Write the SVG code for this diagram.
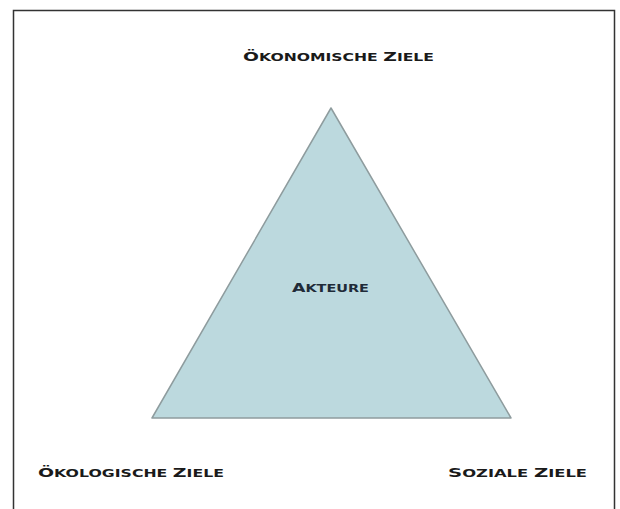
<svg xmlns="http://www.w3.org/2000/svg" width="620" height="509" viewBox="0 0 620 509">
<style>
.lbl{font-family:"DejaVu Sans","Liberation Sans",sans-serif;font-weight:bold;font-size:10.8px;fill:#1a1a1a}
.cap{font-size:13px}
.inner{fill:#1f2b38}
</style>
<rect width="620" height="509" fill="#ffffff"/>
<g id="frame">
<path d="M13.5 515 V10.5 H614.5 V515" fill="none" stroke="#333" stroke-width="1.5"/>
</g>
<g id="akteure">
<polygon points="331,108 152,418 511,418" fill="#bcd9de" stroke="#8e9c9e" stroke-width="1.5" stroke-linejoin="round"/>
<text class="lbl inner" x="292" y="292" textLength="77" lengthAdjust="spacingAndGlyphs"><tspan class="cap">A</tspan>KTEURE</text>
</g>
<g id="oekonomisch">
<text class="lbl" x="243" y="61" textLength="191" lengthAdjust="spacingAndGlyphs"><tspan class="cap">Ö</tspan>KONOMISCHE <tspan class="cap">Z</tspan>IELE</text>
</g>
<g id="oekologisch">
<text class="lbl" x="38" y="477" textLength="186" lengthAdjust="spacingAndGlyphs"><tspan class="cap">Ö</tspan>KOLOGISCHE <tspan class="cap">Z</tspan>IELE</text>
</g>
<g id="sozial">
<text class="lbl" x="448" y="477" textLength="139" lengthAdjust="spacingAndGlyphs"><tspan class="cap">S</tspan>OZIALE <tspan class="cap">Z</tspan>IELE</text>
</g>
<g id="connectors"></g>
</svg>
